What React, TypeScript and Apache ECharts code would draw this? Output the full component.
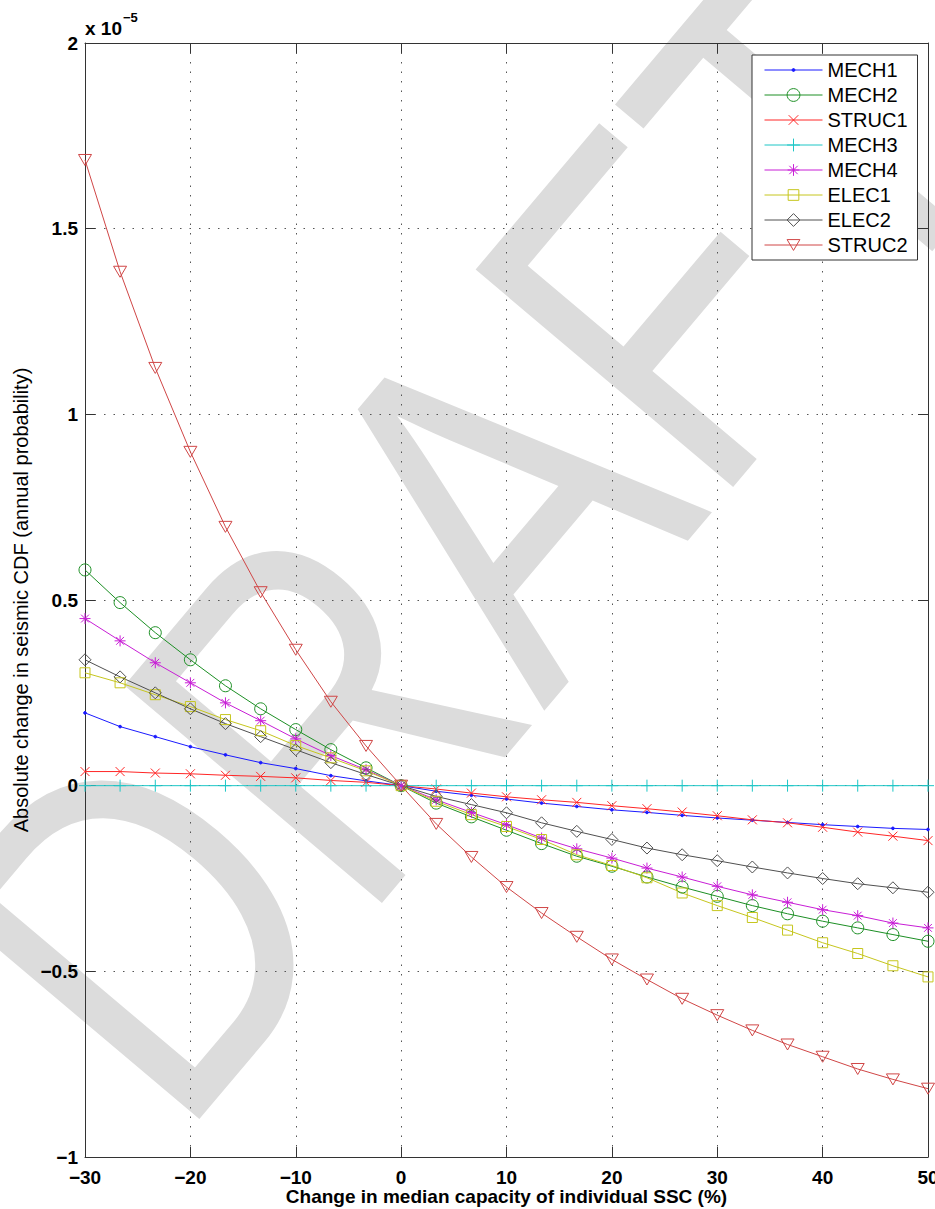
import React, { useEffect, useRef } from "react";
import * as echarts from "echarts";

// x positions (% change in median capacity)
const xValues = [-30, -26.67, -23.33, -20, -16.67, -13.33, -10, -6.67, -3.33, 0, 3.33, 6.67, 10, 13.33, 16.67, 20, 23.33, 26.67, 30, 33.33, 36.67, 40, 43.33, 46.67, 50];

// values in units of 1e-5 (annual probability)
const mech1 = [0.196, 0.159, 0.132, 0.105, 0.083, 0.062, 0.046, 0.027, 0.013, 0, -0.015, -0.026, -0.036, -0.047, -0.056, -0.065, -0.072, -0.080, -0.087, -0.093, -0.099, -0.105, -0.110, -0.115, -0.118];
const mech2 = [0.581, 0.493, 0.412, 0.339, 0.269, 0.207, 0.151, 0.097, 0.048, 0, -0.047, -0.084, -0.120, -0.156, -0.190, -0.217, -0.246, -0.273, -0.298, -0.323, -0.345, -0.365, -0.383, -0.401, -0.419];
const struc1 = [0.038, 0.038, 0.034, 0.032, 0.028, 0.025, 0.021, 0.014, 0.009, 0, -0.009, -0.020, -0.030, -0.038, -0.045, -0.054, -0.062, -0.071, -0.081, -0.092, -0.100, -0.112, -0.125, -0.136, -0.148];
const mech3 = [0, 0, 0, 0, 0, 0, 0, 0, 0, 0, 0, 0, 0, 0, 0, 0, 0, 0, 0, 0, 0, 0, 0, 0, 0];
const mech4 = [0.450, 0.390, 0.331, 0.277, 0.223, 0.175, 0.126, 0.081, 0.043, 0, -0.038, -0.072, -0.105, -0.141, -0.170, -0.195, -0.222, -0.246, -0.271, -0.294, -0.314, -0.334, -0.350, -0.370, -0.383];
const elec1 = [0.304, 0.277, 0.245, 0.213, 0.178, 0.148, 0.108, 0.075, 0.040, 0, -0.042, -0.078, -0.110, -0.145, -0.186, -0.215, -0.248, -0.289, -0.323, -0.355, -0.389, -0.423, -0.452, -0.485, -0.515];
const elec2 = [0.339, 0.293, 0.250, 0.207, 0.167, 0.132, 0.097, 0.062, 0.030, 0, -0.029, -0.051, -0.073, -0.100, -0.123, -0.145, -0.168, -0.186, -0.202, -0.219, -0.235, -0.250, -0.264, -0.275, -0.287];
const struc2 = [1.685, 1.384, 1.125, 0.899, 0.697, 0.521, 0.366, 0.226, 0.107, 0, -0.103, -0.192, -0.273, -0.343, -0.407, -0.468, -0.522, -0.574, -0.618, -0.659, -0.697, -0.730, -0.763, -0.791, -0.816];

const seriesNames = ["MECH1", "MECH2", "STRUC1", "MECH3", "MECH4", "ELEC1", "ELEC2", "STRUC2"];
const seriesValues = [mech1, mech2, struc1, mech3, mech4, elec1, elec2, struc2];
const seriesColors = ["#1a1aff", "#1c8f24", "#ff2626", "#1ec6c6", "#c81ed6", "#c6c61e", "#505050", "#d04646"];

const xTicks = { min: -30, max: 50, interval: 10 };
const yTicks = { min: -1, max: 2, interval: 0.5 };

const xTitle = "Change in median capacity of individual SSC (%)";
const yTitle = "Absolute change in seismic CDF (annual probability)";
const watermark = "DRAFT";

const FONT = "'Liberation Sans', Arial, Helvetica, sans-serif";

// marker shapes (MATLAB-like), 12x12 boxes
const markers = [
  "path://M0,0M12,12M4.6,6L5,5L6,4.6L7,5L7.4,6L7,7L6,7.4L5,7Z", // '.'
  "circle", // 'o'
  "path://M0,0M12,12M1.5,1.5L10.5,10.5M10.5,1.5L1.5,10.5", // 'x'
  "path://M6,0L6,12M0,6L12,6", // '+'
  "path://M0,0M12,12M6,0.5L6,11.5M0.5,6L11.5,6M2.1,2.1L9.9,9.9M9.9,2.1L2.1,9.9", // '*'
  "path://M0,0M12,12M1,1L11,1L11,11L1,11Z", // 's'
  "diamond", // 'd'
  "path://M0,-1M13,12M0,0L13,0L6.5,11Z", // 'v'
];
const markerSizes = [12, 12, 12, 12, 12, 12, 12, 13];

const minus = (s: string) => s.replace("-", "\u2212");

export default function App() {
  const ref = useRef<HTMLDivElement>(null);
  useEffect(() => {
    if (!ref.current) return;
    const chart = echarts.init(ref.current, undefined, { renderer: "svg" });

    const series = seriesNames.map((name, si) => {
      const c = seriesColors[si];
      const filled = si === 0;
      return {
        type: "line",
        name,
        data: xValues.map((x, i) => [x, seriesValues[si][i]]),
        symbol: markers[si],
        symbolSize: markerSizes[si],
        showAllSymbol: true,
        clip: false,
        lineStyle: { color: c, width: 1 },
        itemStyle: { color: filled ? c : "none", borderColor: c, borderWidth: 1 },
        emphasis: { disabled: true },
        z: 3,
      };
    });

    const legendData = seriesNames.map((name, si) => ({
      name,
      itemStyle: {
        color: si === 0 ? seriesColors[si] : "none",
        borderColor: seriesColors[si],
        borderWidth: 1,
      },
      lineStyle: { color: seriesColors[si], width: 1 },
    }));

    const tickLabel = { color: "#000", fontSize: 19, fontWeight: "bold", fontFamily: FONT };

    chart.setOption({
      animation: false,
      backgroundColor: "#fff",
      grid: { left: 85, right: 7, top: 43, bottom: 52, show: false, outerBoundsMode: "none", containLabel: false },
      legend: {
        show: true,
        orient: "vertical",
        left: 752,
        top: 55,
        itemWidth: 58,
        itemHeight: 16,
        itemGap: 5,
        padding: [5, 10, 5, 12],
        backgroundColor: "#fff",
        borderColor: "#333",
        borderWidth: 1,
        textStyle: { fontSize: 20, fontFamily: FONT, color: "#000" },
        data: legendData,
        selectedMode: false,
        z: 10,
      },
      xAxis: [
        {
          type: "value",
          position: "bottom",
          min: xTicks.min,
          max: xTicks.max,
          interval: xTicks.interval,
          axisLine: { show: true, onZero: false, lineStyle: { color: "#333", width: 1 } },
          axisTick: { show: true, inside: true, length: 10, lineStyle: { color: "#333" } },
          axisLabel: { ...tickLabel, margin: 11, formatter: (v: number) => minus(String(v)) },
          splitLine: { show: true, lineStyle: { type: [1.5, 8], color: "#555", width: 1 } },
          name: xTitle,
          nameLocation: "middle",
          nameGap: 30,
          nameMoveOverlap: false,
          nameTextStyle: { color: "#000", fontSize: 19, lineHeight: 19, fontWeight: "bold", fontFamily: FONT },
        },
        {
          type: "value",
          position: "top",
          min: xTicks.min,
          max: xTicks.max,
          interval: xTicks.interval,
          axisLine: { show: true, onZero: false, lineStyle: { color: "#333", width: 1 } },
          axisTick: { show: true, inside: true, length: 10, lineStyle: { color: "#333" } },
          axisLabel: { show: false },
          splitLine: { show: false },
        },
      ],
      yAxis: [
        {
          type: "value",
          position: "left",
          min: yTicks.min,
          max: yTicks.max,
          interval: yTicks.interval,
          axisLine: { show: true, onZero: false, lineStyle: { color: "#333", width: 1 } },
          axisTick: { show: true, inside: true, length: 10, lineStyle: { color: "#333" } },
          axisLabel: { ...tickLabel, margin: 7, formatter: (v: number) => minus(String(v)) },
          splitLine: { show: true, lineStyle: { type: [1.5, 8], color: "#555", width: 1 } },
          name: yTitle,
          nameLocation: "middle",
          nameGap: 54,
          nameMoveOverlap: false,
          nameTextStyle: { color: "#000", fontSize: 20, fontFamily: FONT },
        },
        {
          type: "value",
          position: "right",
          min: yTicks.min,
          max: yTicks.max,
          interval: yTicks.interval,
          axisLine: { show: true, onZero: false, lineStyle: { color: "#333", width: 1 } },
          axisTick: { show: true, inside: true, length: 10, lineStyle: { color: "#333" } },
          axisLabel: { show: false },
          splitLine: { show: false },
        },
      ],
      graphic: [
        {
          type: "text",
          silent: true,
          z: -1,
          x: 470,
          y: 535,
          rotation: 0.87,
          scaleX: 0.8,
          scaleY: 1,
          style: {
            text: watermark,
            fontSize: 490,
            fontFamily: FONT,
            fill: "#dcdcdc",
            align: "center",
            verticalAlign: "middle",
          },
        },
        {
          type: "text",
          silent: true,
          x: 85,
          y: 28,
          style: { text: "x 10", fontSize: 19, fontWeight: "bold", fontFamily: FONT, fill: "#000", verticalAlign: "middle" },
        },
        {
          type: "text",
          silent: true,
          x: 123,
          y: 17,
          style: { text: "\u22125", fontSize: 13, fontWeight: "bold", fontFamily: FONT, fill: "#000", verticalAlign: "middle" },
        },
      ],
      series,
    });
    return () => chart.dispose();
  }, []);
  return <div ref={ref} style={{ position: "absolute", left: 0, top: 0, width: 935, height: 1209 }} />;
}
